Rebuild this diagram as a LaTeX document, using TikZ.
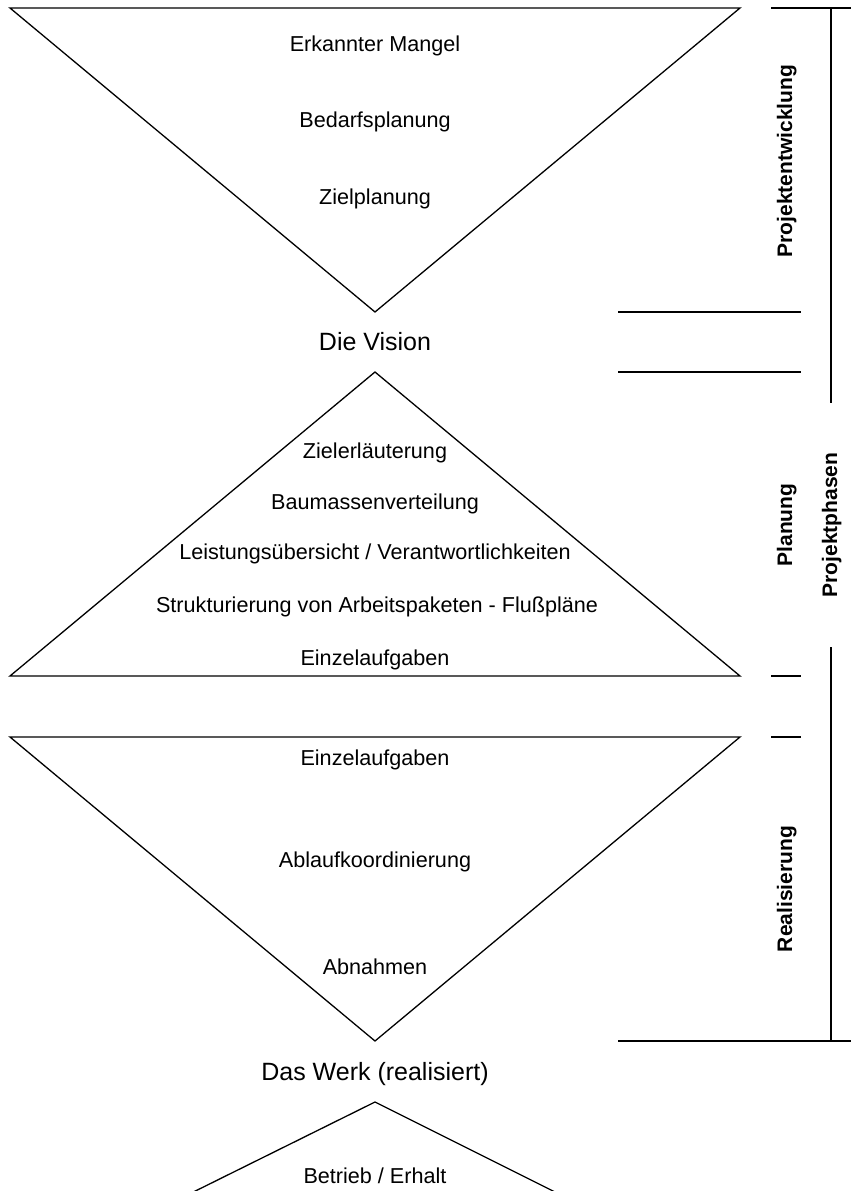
\documentclass[tikz,border=0pt]{standalone}
\usepackage{fontspec}
\setmainfont{Liberation Sans}
\begin{document}
\begin{tikzpicture}[x=1pt,y=-1pt,
  edge/.style={line width=1.3pt,line join=miter},
  item/.style={anchor=base,inner sep=0pt,font=\fontsize{21.6}{26}\selectfont},
  stage/.style={anchor=base,inner sep=0pt,font=\fontsize{25}{30}\selectfont},
  phase/.style={anchor=base,inner sep=0pt,rotate=90,font=\fontsize{21}{25}\selectfont\bfseries}]
\useasboundingbox (0,0) rectangle (851,1191);
\clip (0,0) rectangle (851,1191);

% triangle corners
\coordinate (t1l) at (10,8);   \coordinate (t1r) at (740,8);   \coordinate (t1a) at (375,312);
\coordinate (t2l) at (10,676); \coordinate (t2r) at (740,676); \coordinate (t2a) at (375,372);
\coordinate (t3l) at (10,737); \coordinate (t3r) at (740,737); \coordinate (t3a) at (375,1041);
\coordinate (t4a) at (375,1102);
\coordinate (t4l) at (155,1211); \coordinate (t4r) at (593,1211);

% the four funnels
\draw[edge] (t1l) -- (t1r) -- (t1a) -- cycle;
\draw[edge] (t2l) -- (t2r) -- (t2a) -- cycle;
\draw[edge] (t3l) -- (t3r) -- (t3a) -- cycle;
\draw[edge] (t4l) -- (t4a) -- (t4r);

% phase brackets on the right
\coordinate (b1) at (771,8);    \coordinate (b1e) at (851,8);
\coordinate (v1t) at (831,8);   \coordinate (v1b) at (831,403);
\coordinate (m1l) at (618,312); \coordinate (m1r) at (801,312);
\coordinate (m2l) at (618,372); \coordinate (m2r) at (801,372);
\coordinate (s1l) at (771,676); \coordinate (s1r) at (801,676);
\coordinate (s2l) at (771,737); \coordinate (s2r) at (801,737);
\coordinate (v2t) at (831,647); \coordinate (v2b) at (831,1041);
\coordinate (e1l) at (618,1041);\coordinate (e1r) at (851,1041);
\draw[edge] (b1) -- (b1e);
\draw[edge] (v1t) -- (v1b);
\draw[edge] (m1l) -- (m1r);
\draw[edge] (m2l) -- (m2r);
\draw[edge] (s1l) -- (s1r);
\draw[edge] (s2l) -- (s2r);
\draw[edge] (v2t) -- (v2b);
\draw[edge] (e1l) -- (e1r);

% texts inside the funnels
\node[item] (a1) at (375,51)  {Erkannter Mangel};
\node[item] (a2) at (375,127) {Bedarfsplanung};
\node[item] (a3) at (375,204) {Zielplanung};
\node[stage] (vis) at (375,350) {Die Vision};
\node[item] (p1) at (375,458) {Zielerläuterung};
\node[item] (p2) at (375,509) {Baumassenverteilung};
\node[item] (p3) at (375,559) {Leistungsübersicht / Verantwortlichkeiten};
\node[item] (p4) at (377,612) {Strukturierung von Arbeitspaketen - Flußpläne};
\node[item] (p5) at (375,665) {Einzelaufgaben};
\node[item] (r1) at (375,765) {Einzelaufgaben};
\node[item] (r2) at (375,867) {Ablaufkoordinierung};
\node[item] (r3) at (375,974) {Abnahmen};
\node[stage] (werk) at (375,1080) {Das Werk (realisiert)};
\node[item] (o1) at (375,1183) {Betrieb / Erhalt};

% phase labels
\node[phase] (ph1) at (792,161) {Projektentwicklung};
\node[phase] (ph2) at (792,525) {Planung};
\node[phase] (ph3) at (837,525) {Projektphasen};
\node[phase] (ph4) at (792,889) {Realisierung};
\end{tikzpicture}
\end{document}
